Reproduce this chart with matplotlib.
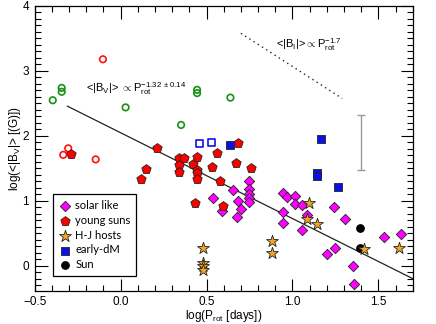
import matplotlib
matplotlib.use('agg')
import matplotlib.pyplot as plt
import numpy as np

plt.rcParams['font.family'] = ['Liberation Sans', 'DejaVu Sans']
plt.rcParams['mathtext.fontset'] = 'custom'
plt.rcParams['mathtext.rm'] = 'Liberation Sans'
plt.rcParams['mathtext.it'] = 'Liberation Sans'

# log(P_rot), log(<|B_V|>)
solar_x = [0.537, 0.591, 0.655, 0.684, 0.698, 0.680, 0.746, 0.746, 0.746, 0.746,
           0.746, 0.945, 0.969, 1.013, 1.013, 1.056, 0.945, 0.945, 1.056, 1.087,
           1.244, 1.308, 1.250, 1.201, 1.355, 1.358, 1.531, 1.634]
solar_y = [1.04, 0.85, 1.17, 1.00, 0.88, 0.75, 1.31, 1.18, 1.11, 1.05,
           0.99, 1.13, 1.06, 1.08, 0.95, 0.94, 0.83, 0.66, 0.56, 0.78,
           0.90, 0.72, 0.27, 0.19, 0.00, -0.27, 0.44, 0.49]

young_x = [-0.289, 0.209, 0.145, 0.120, 0.341, 0.368, 0.341, 0.341, 0.419, 0.445,
           0.442, 0.445, 0.445, 0.531, 0.562, 0.684, 0.674, 0.758, 0.576, 0.434,
           0.595]
young_y = [1.73, 1.81, 1.49, 1.34, 1.66, 1.66, 1.56, 1.44, 1.57, 1.68,
           1.48, 1.43, 1.34, 1.53, 1.74, 1.89, 1.59, 1.51, 1.31, 0.97,
           0.92]

young_open_x = [-0.103, -0.305, -0.334, -0.145]
young_open_y = [3.18, 1.81, 1.71, 1.64]

young_green_x = [-0.395, -0.343, -0.343, 0.029, 0.445, 0.445, 0.352, 0.639]
young_green_y = [2.55, 2.74, 2.68, 2.44, 2.71, 2.66, 2.17, 2.59]

hj_x = [0.480, 0.480, 0.480, 0.480, 0.881, 0.881, 1.097, 1.085, 1.143, 1.415, 1.620]
hj_y = [0.27, 0.05, 0.00, -0.06, 0.39, 0.20, 0.97, 0.72, 0.65, 0.26, 0.27]

dm_x = [0.637, 1.165, 1.145, 1.145, 1.267]
dm_y = [1.86, 1.96, 1.43, 1.38, 1.21]
dm_open_x = [0.457, 0.531]
dm_open_y = [1.88, 1.90]

sun_x = [1.395, 1.395]
sun_y = [0.59, 0.28]

# power-law fits
fit_x = [-0.31, 1.70]
fit_slope, fit_icpt = -1.32, 2.05
bi_x = [0.70, 1.29]
bi_slope, bi_icpt = -1.7, 4.77

err_x, err_y, err_dy = 1.40, 1.90, 0.43

fig = plt.figure(figsize=(4.36, 3.24), dpi=100)
ax = fig.add_axes([0.0796, 0.1028, 0.867, 0.8787])

fx = np.array(fit_x)
ax.plot(fx, fit_icpt + fit_slope * fx, color='#222222', lw=0.9, zorder=2)
bx = np.array(bi_x)
ax.plot(bx, bi_icpt + bi_slope * bx, color='#222222', lw=1.0,
        linestyle=(0, (1, 2.6)), zorder=2)
ax.errorbar(err_x, err_y, yerr=err_dy, color='#999999', lw=1.0, capsize=3,
            capthick=1.0, zorder=2)

ax.scatter(young_open_x, young_open_y, s=22, marker='o', facecolors='none',
           edgecolors='#ff1010', linewidths=1.2, zorder=3)
ax.scatter(young_green_x, young_green_y, s=22, marker='o', facecolors='none',
           edgecolors='#169116', linewidths=1.2, zorder=3)
ax.scatter(dm_open_x, dm_open_y, s=26, marker='s', facecolors='none',
           edgecolors='#1010ee', linewidths=1.2, zorder=3)

ax.scatter(solar_x, solar_y, s=28, marker='D', color='#ff00ff', edgecolors='#222222',
           linewidths=0.6, zorder=4, label='solar like')
ax.scatter(young_x, young_y, s=50, marker='p', color='#ff0000', edgecolors='#222222',
           linewidths=0.6, zorder=4, label='young suns')
ax.scatter(hj_x, hj_y, s=80, marker='*', color='#f5a623', edgecolors='#222222',
           linewidths=0.6, zorder=5, label='H-J hosts')
ax.scatter(dm_x, dm_y, s=26, marker='s', color='#0a10e6', edgecolors='#222222',
           linewidths=0.6, zorder=4, label='early-dM')
ax.scatter(sun_x, sun_y, s=28, marker='o', color='black', zorder=4, label='Sun')

ax.text(-0.202, 2.67, r'<|B$_V$|> $\propto$P$_{rot}^{-1.32\ \pm0.14}$',
        fontsize=8, va='baseline', ha='left')
ax.text(0.903, 3.36, r'<|B$_I$|>$\propto$P$_{rot}^{-1.7}$',
        fontsize=8, va='baseline', ha='left')

ax.set_xlim(-0.5, 1.7)
ax.set_ylim(-0.38, 4)
ax.set_xticks([-0.5, 0.0, 0.5, 1.0, 1.5])
ax.set_xticklabels(['\u22120.5', '0.0', '0.5', '1.0', '1.5'])
ax.set_yticks([0, 1, 2, 3, 4])
ax.xaxis.set_minor_locator(matplotlib.ticker.MultipleLocator(0.1))
ax.yaxis.set_minor_locator(matplotlib.ticker.MultipleLocator(0.1))
ax.tick_params(which='both', direction='in', top=True, right=True, width=0.8,
               labelsize=8.5)
ax.tick_params(axis='x', pad=3.5)
ax.tick_params(axis='y', pad=4)
ax.tick_params(which='major', length=9)
ax.tick_params(which='minor', length=4.5)
for sp in ax.spines.values():
    sp.set_linewidth(0.9)

ax.set_xlabel('log(P$_{rot}$ [days])', fontsize=8.5, labelpad=0)
ax.set_ylabel('log(<|B$_V$|> [(G)])', fontsize=8.5, labelpad=0)

leg = ax.legend(loc='lower left', bbox_to_anchor=(0.049, 0.052), fancybox=False,
                edgecolor='black', framealpha=1, borderpad=0.5, handletextpad=0.3,
                labelspacing=0.35, handlelength=1.2, borderaxespad=0,
                prop={'family': 'Lato', 'size': 8})
leg.get_frame().set_linewidth(0.9)

fig.savefig('out.png', dpi=100)
